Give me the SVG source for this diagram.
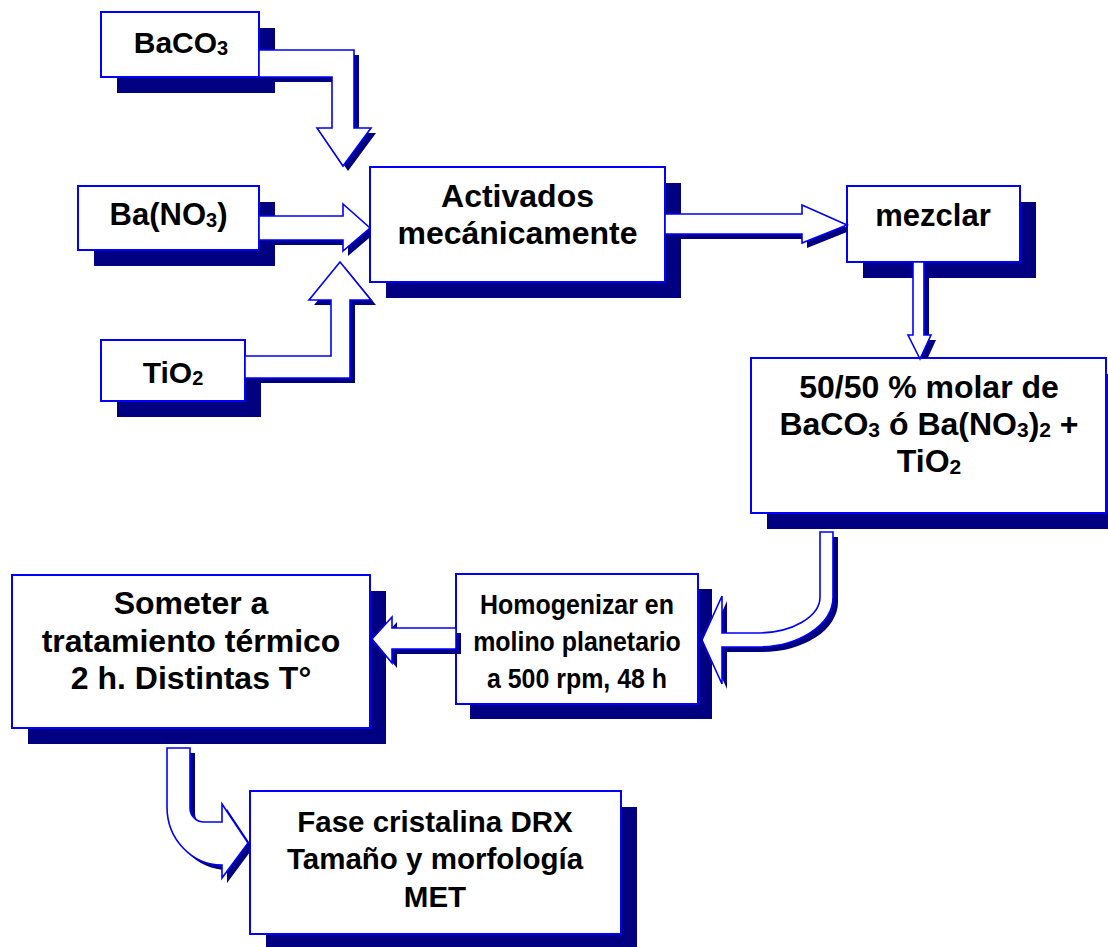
<svg xmlns="http://www.w3.org/2000/svg" xmlns:xlink="http://www.w3.org/1999/xlink" width="1108" height="947" viewBox="0 0 1108 947">
<defs>
<style>
.sh{fill:#000080}
.bx{fill:#fff;stroke:#0000ff;stroke-width:2}
.t{font-family:"Liberation Sans",Arial,sans-serif;font-weight:bold;fill:#000;text-anchor:middle}
.ar{fill:#fff;stroke:#0000ff;stroke-width:1.6;stroke-linejoin:miter}
.as{fill:#000080;stroke:none}
</style>
<path id="p1" d="M259,50 L354,50 L354,128 L371,128 L343,166 L317,128 L332,128 L332,77 L259,77 Z"/>
<path id="p2" d="M259,216 L343,216 L343,204 L370,228 L343,251 L343,240 L259,240 Z"/>
<path id="p3" d="M245,356 L331,356 L331,300 L309,300 L340,262 L371,300 L350,300 L350,378 L245,378 Z"/>
<path id="p4" d="M665,214 L802,214 L802,205 L847,225 L802,243 L802,234 L665,234 Z"/>
<path id="p5" d="M913,262 L924,262 L924,335 L931,335 L920,359 L908,335 L913,335 Z"/>
<path id="p6" d="M820,532 L833,532 L833,597 A76,50 0 0 1 757,647 L722,647 L722,684 L702,640 L722,596 L722,633 L757,633 A63,36 0 0 0 820,597 Z"/>
<path id="p7" d="M456,628 L392,628 L392,617 L372,639 L392,663 L392,649 L456,649 Z"/>
<path id="p8" d="M167,748 L190,748 L190,808 A14,14 0 0 0 204,822 L222,822 L222,804 L248,843 L222,878 L222,865 A55,58 0 0 1 167,807 Z"/>
<clipPath id="c2"><rect x="0" y="0" width="370" height="947"/></clipPath>
<clipPath id="c4"><rect x="0" y="0" width="847" height="947"/></clipPath>
<clipPath id="c5"><rect x="0" y="0" width="1108" height="358"/></clipPath>
<clipPath id="c8"><rect x="0" y="0" width="250" height="947"/></clipPath>
</defs>
<rect width="1108" height="947" fill="#fff"/>

<g id="n-baco3">
<rect class="sh" x="117" y="28" width="158" height="65"/>
<rect class="bx" x="101" y="12" width="158" height="65"/>
<text class="t" x="181" y="53" font-size="30">BaCO<tspan font-size="20" dy="2">3</tspan></text>
</g>
<g id="n-bano3">
<rect class="sh" x="94" y="202" width="181" height="64"/>
<rect class="bx" x="78" y="186" width="181" height="64"/>
<text class="t" x="168.5" y="225" font-size="31">Ba(NO<tspan font-size="20" dy="2">3</tspan><tspan dy="-2">)</tspan></text>
</g>
<g id="n-tio2">
<rect class="sh" x="117" y="356" width="144" height="61"/>
<rect class="bx" x="101" y="340" width="144" height="61"/>
<text class="t" x="173" y="383" font-size="30">TiO<tspan font-size="20" dy="2">2</tspan></text>
</g>
<g id="n-activados">
<rect class="sh" x="386" y="183" width="295" height="115"/>
<rect class="bx" x="370" y="167" width="295" height="115"/>
<text class="t" x="517.5" y="207" font-size="32">Activados</text>
<text class="t" x="517.5" y="244" font-size="32">mecánicamente</text>
</g>
<g id="n-mezclar">
<rect class="sh" x="863" y="202" width="173" height="76"/>
<rect class="bx" x="847" y="186" width="173" height="76"/>
<text class="t" x="933" y="226" font-size="31">mezclar</text>
</g>
<g id="n-molar">
<rect class="sh" x="767" y="374" width="356" height="155"/>
<rect class="bx" x="751" y="358" width="355" height="155"/>
<text class="t" x="929" y="398" font-size="32">50/50 % molar de</text>
<text class="t" x="929" y="435" font-size="32">BaCO<tspan font-size="21" dy="2">3</tspan><tspan dy="-2"> ó Ba(NO</tspan><tspan font-size="21" dy="2">3</tspan><tspan dy="-2">)</tspan><tspan font-size="21" dy="2">2</tspan><tspan dy="-2"> +</tspan></text>
<text class="t" x="929" y="472" font-size="32">TiO<tspan font-size="21" dy="2">2</tspan></text>
</g>
<g id="n-homogenizar">
<rect class="sh" x="470" y="589" width="242" height="130"/>
<rect class="bx" x="456" y="574" width="242" height="130"/>
<text class="t" transform="translate(577,614) scale(0.89,1)" x="0" y="0" font-size="28">Homogenizar en</text>
<text class="t" transform="translate(577,651) scale(0.89,1)" x="0" y="0" font-size="28">molino planetario</text>
<text class="t" transform="translate(577,688) scale(0.89,1)" x="0" y="0" font-size="28">a 500 rpm, 48 h</text>
</g>
<g id="n-someter">
<rect class="sh" x="28" y="591" width="358" height="153"/>
<rect class="bx" x="12" y="575" width="358" height="153"/>
<text class="t" x="191" y="614" font-size="32">Someter a</text>
<text class="t" x="191" y="652" font-size="32">tratamiento térmico</text>
<text class="t" x="191" y="689" font-size="32">2 h. Distintas T°</text>
</g>
<g id="n-fase">
<rect class="sh" x="266" y="807" width="371" height="140"/>
<rect class="bx" x="250" y="791" width="371" height="143"/>
<text class="t" x="435" y="832" font-size="29.5">Fase cristalina DRX</text>
<text class="t" x="435" y="869" font-size="29.5">Tamaño y morfología</text>
<text class="t" x="435" y="907" font-size="29.5">MET</text>
</g>

<g id="connectors">
<g id="e1"><use xlink:href="#p1" href="#p1" class="as" transform="translate(5,5)"/><use xlink:href="#p1" href="#p1" class="ar"/></g>
<g id="e2"><g clip-path="url(#c2)"><use xlink:href="#p2" href="#p2" class="as" transform="translate(5,5)"/></g><use xlink:href="#p2" href="#p2" class="ar"/></g>
<g id="e3"><use xlink:href="#p3" href="#p3" class="as" transform="translate(5,5)"/><use xlink:href="#p3" href="#p3" class="ar"/></g>
<g id="e4"><g clip-path="url(#c4)"><use xlink:href="#p4" href="#p4" class="as" transform="translate(5,5)"/></g><use xlink:href="#p4" href="#p4" class="ar"/></g>
<g id="e5"><g clip-path="url(#c5)"><use xlink:href="#p5" href="#p5" class="as" transform="translate(5,5)"/></g><use xlink:href="#p5" href="#p5" class="ar"/></g>
<g id="e6"><use xlink:href="#p6" href="#p6" class="as" transform="translate(5,5)"/><use xlink:href="#p6" href="#p6" class="ar"/></g>
<g id="e7"><use xlink:href="#p7" href="#p7" class="as" transform="translate(5,5)"/><use xlink:href="#p7" href="#p7" class="ar"/></g>
<g id="e8"><g clip-path="url(#c8)"><use xlink:href="#p8" href="#p8" class="as" transform="translate(5,5)"/></g><use xlink:href="#p8" href="#p8" class="ar"/></g>
</g>
</svg>
